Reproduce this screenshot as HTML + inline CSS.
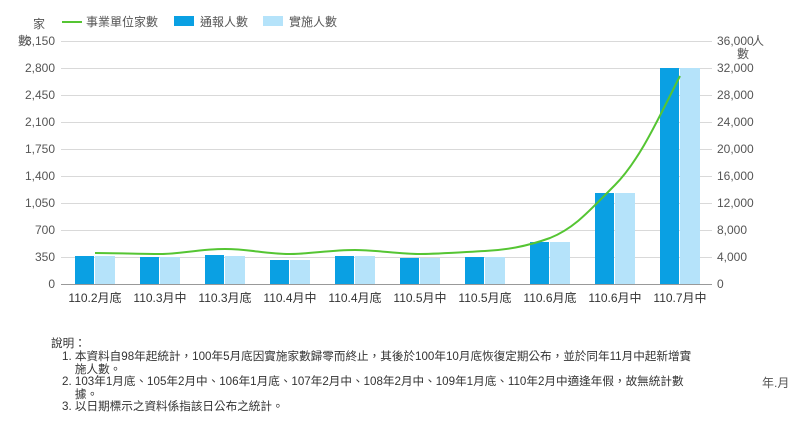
<!DOCTYPE html>
<html><head><meta charset="utf-8"><style>
body{margin:0;background:#fff;width:800px;height:429px;overflow:hidden;font-family:"Liberation Sans","Noto Sans CJK TC",sans-serif;}
.n{position:absolute;font-size:11.6px;color:#333;line-height:12.6px;white-space:nowrap;}
</style></head><body>
<svg width="800" height="429" style="position:absolute;left:0;top:0" font-family="Liberation Sans, Noto Sans CJK TC, sans-serif">
<g stroke="#d9d9d9" stroke-width="1">
<line x1="61" x2="712" y1="41.5" y2="41.5"/><line x1="61" x2="712" y1="68.5" y2="68.5"/>
<line x1="61" x2="712" y1="95.5" y2="95.5"/><line x1="61" x2="712" y1="122.5" y2="122.5"/>
<line x1="61" x2="712" y1="149.5" y2="149.5"/><line x1="61" x2="712" y1="176.5" y2="176.5"/>
<line x1="61" x2="712" y1="203.5" y2="203.5"/><line x1="61" x2="712" y1="230.5" y2="230.5"/>
<line x1="61" x2="712" y1="257.5" y2="257.5"/>
</g>
<line x1="61" x2="712" y1="284.5" y2="284.5" stroke="#999"/>
<g font-size="12" fill="#555" text-anchor="end">
<text x="55" y="45">3,150</text><text x="55" y="72">2,800</text><text x="55" y="99">2,450</text>
<text x="55" y="126">2,100</text><text x="55" y="153">1,750</text><text x="55" y="180">1,400</text>
<text x="55" y="207">1,050</text><text x="55" y="234">700</text><text x="55" y="261">350</text>
<text x="55" y="288">0</text>
</g>
<g font-size="12" fill="#555" text-anchor="start">
<text x="717" y="45">36,000</text><text x="717" y="72">32,000</text><text x="717" y="99">28,000</text>
<text x="717" y="126">24,000</text><text x="717" y="153">20,000</text><text x="717" y="180">16,000</text>
<text x="717" y="207">12,000</text><text x="717" y="234">8,000</text><text x="717" y="261">4,000</text>
<text x="717" y="288">0</text>
</g>
<g font-size="12" fill="#555"><text x="33" y="28">家</text><text x="18" y="45">數</text>
<text x="752" y="45">人</text><text x="737" y="58">數</text><text x="762" y="387">年.月</text></g>
<g fill="#0aa0e3">
<rect x="75" y="256" width="19" height="28"/><rect x="140" y="257" width="19" height="27"/>
<rect x="205" y="255" width="19" height="29"/><rect x="270" y="260" width="19" height="24"/>
<rect x="335" y="256" width="19" height="28"/><rect x="400" y="258" width="19" height="26"/>
<rect x="465" y="257" width="19" height="27"/><rect x="530" y="242" width="19" height="42"/>
<rect x="595" y="193" width="19" height="91"/><rect x="660" y="68" width="19" height="216"/>
</g>
<g fill="#b5e3fa">
<rect x="95" y="256" width="20" height="28"/><rect x="160" y="257" width="20" height="27"/>
<rect x="225" y="256" width="20" height="28"/><rect x="290" y="260" width="20" height="24"/>
<rect x="355" y="256" width="20" height="28"/><rect x="420" y="258" width="20" height="26"/>
<rect x="485" y="257" width="20" height="27"/><rect x="550" y="242" width="20" height="42"/>
<rect x="615" y="193" width="20" height="91"/><rect x="680" y="68" width="20" height="216"/>
</g>
<path d="M95,253 C115,253 140,254 160,254 C180,254 200,249 225,249 C250,249 265,254 290,254 C310,254 330,250 355,250 C375,250 400,254 420,254 C440,254 465,252 485,251 C505,250 525,247 550,238 C575,228 590,210 615,185 C640,160 660,115 680,76" fill="none" stroke="#55c533" stroke-width="2"/>
<g font-size="12" fill="#333" text-anchor="middle">
<text x="95" y="302">110.2月底</text><text x="160" y="302">110.3月中</text><text x="225" y="302">110.3月底</text>
<text x="290" y="302">110.4月中</text><text x="355" y="302">110.4月底</text><text x="420" y="302">110.5月中</text>
<text x="485" y="302">110.5月底</text><text x="550" y="302">110.6月底</text><text x="615" y="302">110.6月中</text>
<text x="680" y="302">110.7月中</text>
</g>
<line x1="62" x2="82" y1="22" y2="22" stroke="#55c533" stroke-width="2"/>
<rect x="174" y="16" width="20" height="10" fill="#0aa0e3"/>
<rect x="263" y="16" width="20" height="10" fill="#b5e3fa"/>
<g font-size="12" fill="#555"><text x="86" y="26">事業單位家數</text><text x="200" y="26">通報人數</text><text x="289" y="26">實施人數</text></g>
</svg>
<div class="n" style="left:51px;top:338px">說明：</div>
<div class="n" style="left:62px;top:351px">1. 本資料自98年起統計，100年5月底因實施家數歸零而終止，其後於100年10月底恢復定期公布，並於同年11月中起新增實<br>&nbsp;&nbsp;&nbsp;&nbsp;施人數。</div>
<div class="n" style="left:62px;top:376px">2. 103年1月底、105年2月中、106年1月底、107年2月中、108年2月中、109年1月底、110年2月中適逢年假，故無統計數<br>&nbsp;&nbsp;&nbsp;&nbsp;據。</div>
<div class="n" style="left:62px;top:401px">3. 以日期標示之資料係指該日公布之統計。</div>
</body></html>
